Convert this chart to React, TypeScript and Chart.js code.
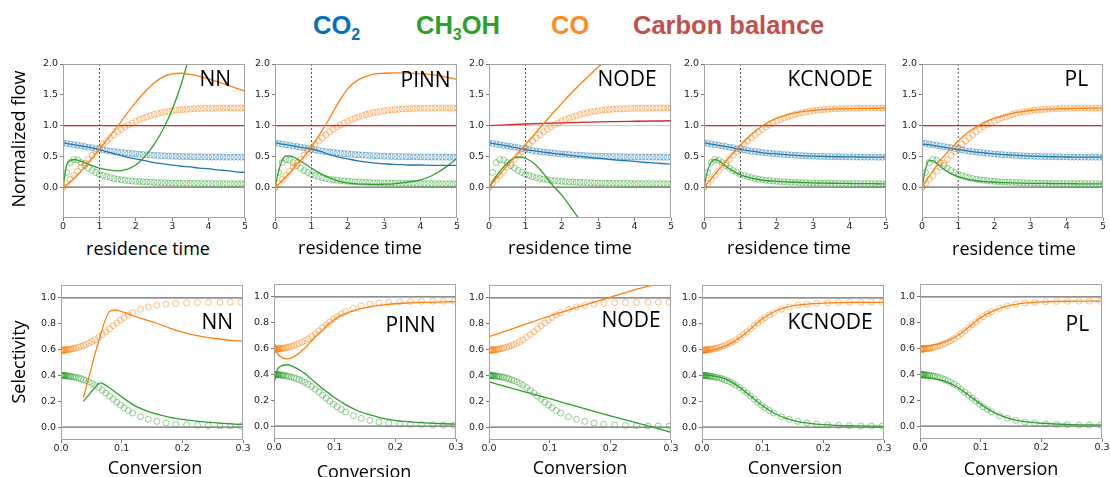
import React, { useEffect, useRef } from 'react';
import { Chart, registerables } from 'chart.js';
Chart.register(...registerables);

// ---------------- DATA ----------------
const topXTicks = [0, 1, 2, 3, 4, 5];
const topYTicks = [0, 0.5, 1, 1.5, 2];
const botXTicks = [0, 0.1, 0.2, 0.3];
const botYTicks = [0, 0.2, 0.4, 0.6, 0.8, 1];

// reference (markers), top row
const refTime = [0,0.1,0.2,0.3,0.4,0.5,0.6,0.7,0.8,0.9,1,1.1,1.2,1.3,1.4,1.5,1.6,1.7,1.8,1.9,2,2.1,2.2,2.3,2.4,2.5,2.6,2.7,2.8,2.9,3,3.1,3.2,3.3,3.4,3.5,3.6,3.7,3.8,3.9,4,4.1,4.2,4.3,4.4,4.5,4.6,4.7,4.8,4.9,5];
const refCO = [0,0.06,0.13,0.19,0.26,0.33,0.39,0.45,0.52,0.58,0.64,0.7,0.75,0.8,0.85,0.9,0.94,0.98,1.01,1.04,1.07,1.1,1.12,1.14,1.16,1.18,1.195,1.21,1.22,1.23,1.24,1.25,1.255,1.26,1.265,1.27,1.272,1.275,1.277,1.279,1.28,1.281,1.282,1.283,1.284,1.285,1.285,1.285,1.285,1.285,1.285];
const refCO2 = [0.72,0.71,0.7,0.69,0.68,0.67,0.66,0.65,0.64,0.625,0.615,0.605,0.595,0.585,0.578,0.57,0.564,0.557,0.551,0.545,0.54,0.535,0.53,0.526,0.522,0.518,0.515,0.512,0.509,0.506,0.504,0.502,0.5,0.498,0.497,0.496,0.495,0.494,0.493,0.492,0.491,0.49,0.49,0.489,0.489,0.488,0.488,0.488,0.487,0.487,0.487];
const refCH3OH = [0,0.24,0.4,0.45,0.44,0.4,0.35,0.31,0.27,0.24,0.21,0.19,0.17,0.155,0.14,0.13,0.12,0.112,0.105,0.1,0.095,0.091,0.087,0.084,0.081,0.078,0.076,0.074,0.072,0.07,0.068,0.067,0.066,0.065,0.064,0.063,0.062,0.061,0.06,0.06,0.059,0.059,0.058,0.058,0.057,0.057,0.056,0.056,0.056,0.055,0.055];

// model curves, top row
const modelTime = [0,0.1,0.2,0.3,0.4,0.5,0.6,0.8,1,1.25,1.5,1.75,2,2.25,2.5,2.75,3,3.25,3.5,3.75,4,4.25,4.5,4.75,5];
const nnCO = [0,0.04,0.09,0.14,0.2,0.26,0.33,0.47,0.62,0.8,0.99,1.19,1.38,1.55,1.69,1.79,1.84,1.85,1.83,1.8,1.76,1.71,1.66,1.61,1.56];
const nnCO2 = [0.72,0.71,0.7,0.69,0.68,0.67,0.66,0.64,0.61,0.57,0.53,0.49,0.46,0.43,0.4,0.38,0.36,0.34,0.33,0.31,0.3,0.28,0.27,0.25,0.24];
const nnCH3OH = [0,0.36,0.43,0.45,0.44,0.42,0.4,0.35,0.31,0.28,0.265,0.29,0.36,0.5,0.69,0.94,1.26,1.68,2.2,2.8,3.5,4.2,5,5.8,6.6];
const pinnCO = [0,0.05,0.11,0.17,0.23,0.3,0.37,0.5,0.65,0.88,1.12,1.38,1.6,1.73,1.8,1.84,1.85,1.855,1.855,1.85,1.845,1.83,1.81,1.78,1.75];
const pinnCO2 = [0.72,0.71,0.7,0.69,0.68,0.67,0.66,0.64,0.62,0.58,0.53,0.49,0.46,0.43,0.41,0.39,0.38,0.37,0.365,0.36,0.36,0.355,0.355,0.355,0.355];
const pinnCH3OH = [0,0.26,0.44,0.51,0.51,0.49,0.46,0.39,0.31,0.22,0.15,0.1,0.07,0.055,0.05,0.045,0.05,0.055,0.07,0.09,0.12,0.17,0.25,0.35,0.47];
const nodeCO = [0,0.07,0.14,0.21,0.28,0.35,0.42,0.55,0.69,0.86,1.03,1.2,1.36,1.52,1.67,1.81,1.95,2.08,2.2,2.32,2.43,2.54,2.64,2.74,2.83];
const nodeCO2 = [0.72,0.71,0.7,0.69,0.68,0.67,0.66,0.635,0.61,0.59,0.57,0.55,0.535,0.515,0.5,0.485,0.47,0.455,0.44,0.43,0.42,0.405,0.395,0.385,0.375];
const nodeCH3OH = [0,0.09,0.18,0.26,0.33,0.39,0.44,0.49,0.47,0.38,0.22,0.03,-0.13,-0.33,-0.54,-0.8,-1.1,-1.4,-1.7,-2,-2.3,-2.6,-2.9,-3.2,-3.5];
const kcCO = [0,0.07,0.14,0.21,0.28,0.35,0.42,0.55,0.68,0.83,0.95,1.05,1.12,1.17,1.205,1.23,1.248,1.26,1.268,1.273,1.277,1.28,1.281,1.282,1.283];
const kcCO2 = [0.72,0.71,0.7,0.69,0.68,0.67,0.66,0.64,0.615,0.59,0.57,0.55,0.54,0.528,0.518,0.51,0.504,0.5,0.496,0.494,0.492,0.49,0.489,0.488,0.487];
const kcCH3OH = [0,0.27,0.41,0.45,0.43,0.39,0.34,0.26,0.2,0.155,0.125,0.105,0.095,0.087,0.08,0.075,0.07,0.067,0.064,0.062,0.06,0.058,0.057,0.056,0.055];
const plCO = [0,0.09,0.18,0.26,0.35,0.43,0.5,0.63,0.75,0.88,0.98,1.06,1.12,1.16,1.2,1.225,1.245,1.258,1.267,1.273,1.277,1.28,1.282,1.283,1.284];
const plCO2 = [0.7,0.695,0.69,0.68,0.67,0.66,0.65,0.63,0.61,0.59,0.57,0.555,0.54,0.53,0.52,0.512,0.505,0.5,0.496,0.493,0.49,0.489,0.488,0.487,0.487];
const plCH3OH = [0,0.3,0.43,0.43,0.39,0.34,0.29,0.22,0.17,0.13,0.105,0.09,0.08,0.075,0.07,0.066,0.063,0.061,0.06,0.058,0.057,0.056,0.055,0.055,0.055];

// carbon balance
const balanceTime = [0, 5];
const balanceFlat = [1, 1];
const nodeBalanceTime = [0, 1, 2, 3, 4, 5];
const nodeBalance = [1, 1.025, 1.045, 1.06, 1.07, 1.078];

// reference guides
const guideTimeX = [1, 1];
const guideTimeY = [-0.5, 2];
const guideTopX = [0, 5];
const guideBotX = [0, 0.3];
const guideZero = [0, 0];
const guideOne = [1, 1];

// reference (markers), bottom row
const refConv = [0,0.001,0.002,0.003,0.004,0.005,0.006,0.007,0.008,0.01,0.012,0.014,0.016,0.019,0.022,0.025,0.029,0.033,0.037,0.041,0.046,0.051,0.056,0.062,0.068,0.074,0.08,0.086,0.092,0.098,0.104,0.111,0.118,0.131,0.144,0.158,0.173,0.189,0.207,0.225,0.243,0.262,0.279,0.297];
const refSelCO = [0.595,0.595,0.595,0.596,0.596,0.596,0.597,0.597,0.598,0.599,0.6,0.602,0.603,0.606,0.609,0.613,0.618,0.624,0.631,0.639,0.65,0.662,0.676,0.695,0.716,0.738,0.761,0.785,0.807,0.829,0.848,0.868,0.886,0.912,0.93,0.943,0.952,0.958,0.962,0.965,0.966,0.967,0.967,0.967];
const refSelCH3OH = [0.4,0.4,0.4,0.399,0.399,0.399,0.398,0.398,0.397,0.396,0.395,0.394,0.392,0.39,0.387,0.384,0.38,0.374,0.367,0.36,0.35,0.338,0.324,0.306,0.285,0.263,0.24,0.216,0.193,0.17,0.15,0.128,0.109,0.08,0.06,0.044,0.032,0.023,0.017,0.013,0.011,0.009,0.008,0.007];

// model curves, bottom row
const nnConv = [0.037,0.045,0.05,0.055,0.06,0.065,0.07,0.08,0.09,0.1,0.12,0.14,0.16,0.18,0.2,0.22,0.24,0.26,0.28,0.3];
const nnSelCO = [0.23,0.37,0.46,0.55,0.63,0.71,0.79,0.895,0.908,0.893,0.86,0.83,0.8,0.765,0.735,0.712,0.695,0.682,0.672,0.665];
const nnSelCH3OH = [0.2,0.245,0.275,0.3,0.33,0.342,0.335,0.305,0.27,0.235,0.17,0.128,0.098,0.076,0.06,0.048,0.038,0.031,0.025,0.02];
const pinnConv = [0,0.002,0.005,0.01,0.02,0.03,0.04,0.05,0.06,0.07,0.08,0.09,0.1,0.11,0.12,0.14,0.16,0.18,0.2,0.22,0.25,0.28,0.3];
const pinnSelCO = [0.6,0.63,0.57,0.54,0.52,0.53,0.56,0.6,0.65,0.7,0.745,0.79,0.825,0.855,0.875,0.905,0.925,0.938,0.947,0.953,0.958,0.962,0.963];
const pinnSelCH3OH = [0.4,0.36,0.43,0.46,0.475,0.465,0.44,0.41,0.37,0.33,0.29,0.255,0.22,0.19,0.16,0.115,0.085,0.06,0.045,0.035,0.025,0.018,0.015];
const nodeConv = [0,0.05,0.1,0.15,0.2,0.25,0.3];
const nodeSelCO = [0.7,0.78,0.86,0.935,1.005,1.075,1.14];
const nodeSelCH3OH = [0.35,0.285,0.22,0.152,0.087,0.025,-0.04];
const kcConv = [0,0.02,0.04,0.06,0.08,0.1,0.12,0.14,0.16,0.18,0.2,0.22,0.25,0.3];
const kcSelCO = [0.59,0.6,0.63,0.685,0.76,0.84,0.895,0.928,0.946,0.955,0.96,0.963,0.965,0.966];
const kcSelCH3OH = [0.405,0.395,0.37,0.315,0.24,0.165,0.105,0.065,0.04,0.027,0.019,0.014,0.01,0.006];
const plConv = [0,0.02,0.04,0.06,0.08,0.1,0.12,0.14,0.16,0.18,0.2,0.25,0.3];
const plSelCO = [0.62,0.625,0.65,0.695,0.765,0.84,0.89,0.925,0.945,0.955,0.962,0.967,0.968];
const plSelCH3OH = [0.375,0.37,0.35,0.305,0.24,0.17,0.11,0.07,0.045,0.03,0.022,0.012,0.008];

// ---------------- STYLE ----------------
const C_BLUE = '#1f77b4';
const C_ORANGE = '#ff7f0e';
const C_GREEN = '#2ca02c';
const C_RED = '#d62728';
const M_BLUE = 'rgba(31,119,180,0.5)';
const M_ORANGE = 'rgba(255,127,14,0.5)';
const M_GREEN = 'rgba(44,160,44,0.5)';

const AXL = 34;
const PADT = 8;
const PADR = 8;
const AXB = 18;

const xy = (xs: number[], ys: number[]) => xs.map((x, i) => ({ x, y: ys[i] }));

const line = (xs: number[], ys: number[], color: string, order = 1, width = 1.3) => ({
  data: xy(xs, ys),
  borderColor: color,
  borderWidth: width,
  pointRadius: 0,
  fill: false,
  cubicInterpolationMode: 'monotone',
  order,
});

const markers = (xs: number[], ys: number[], color: string) => ({
  data: xy(xs, ys),
  showLine: false,
  pointRadius: 3,
  pointBorderWidth: 1,
  pointBorderColor: color,
  pointBackgroundColor: 'rgba(0,0,0,0)',
  order: 3,
});

const guide = (xs: number[], ys: number[], color: string, width: number, dash: number[] = []) => ({
  data: xy(xs, ys),
  borderColor: color,
  borderWidth: width,
  borderDash: dash,
  pointRadius: 0,
  fill: false,
  tension: 0,
  order: 4,
});

const framePlugin = {
  id: 'frame',
  afterDatasetsDraw(chart: any) {
    const { ctx, chartArea: a } = chart;
    ctx.save();
    ctx.strokeStyle = '#a3a3a3';
    ctx.lineWidth = 1;
    ctx.strokeRect(a.left + 0.5, a.top + 0.5, a.right - a.left - 1, a.bottom - a.top - 1);
    ctx.restore();
  },
};

type PanelDef = {
  key: string;
  l: number; r: number; t: number; b: number;
  xMin: number; xMax: number; yMin: number; yMax: number;
  xTicks: number[]; yTicks: number[]; xDec: number;
  datasets: any[];
};

const topDatasets = (co: number[], co2: number[], meoh: number[], balX: number[], balY: number[]) => [
  line(modelTime, co, C_ORANGE),
  line(modelTime, co2, C_BLUE),
  line(modelTime, meoh, C_GREEN),
  line(balX, balY, C_RED, 2, 1.4),
  markers(refTime, refCO, M_ORANGE),
  markers(refTime, refCO2, M_BLUE),
  markers(refTime, refCH3OH, M_GREEN),
  guide(guideTimeX, guideTimeY, '#333', 0.8, [2, 2]),
  guide(guideTopX, guideOne, '#c8c8c8', 1),
  guide(guideTopX, guideZero, '#6a6a6a', 1.3),
];

const botDatasets = (cx: number[], co: number[], meoh: number[]) => [
  line(cx, co, C_ORANGE),
  line(cx, meoh, C_GREEN),
  markers(refConv, refSelCO, M_ORANGE),
  markers(refConv, refSelCH3OH, M_GREEN),
  guide(guideBotX, guideOne, '#6a6a6a', 1.3),
  guide(guideBotX, guideZero, '#6a6a6a', 1.3),
];

const topCommon = { xMin: 0, xMax: 5, yMin: -0.5, yMax: 2, xTicks: topXTicks, yTicks: topYTicks, xDec: 0 };
const botCommon = { xMin: 0, xMax: 0.3, yMin: -0.1, yMax: 1.1, xTicks: botXTicks, yTicks: botYTicks, xDec: 1 };

const panels: PanelDef[] = [
  { key: 'tNN', l: 63, r: 245, t: 64, b: 218, ...topCommon, datasets: topDatasets(nnCO, nnCO2, nnCH3OH, balanceTime, balanceFlat) },
  { key: 'tPINN', l: 275, r: 457, t: 64, b: 218, ...topCommon, datasets: topDatasets(pinnCO, pinnCO2, pinnCH3OH, balanceTime, balanceFlat) },
  { key: 'tNODE', l: 489, r: 671, t: 64, b: 218, ...topCommon, datasets: topDatasets(nodeCO, nodeCO2, nodeCH3OH, nodeBalanceTime, nodeBalance) },
  { key: 'tKC', l: 704, r: 886, t: 64, b: 218, ...topCommon, datasets: topDatasets(kcCO, kcCO2, kcCH3OH, balanceTime, balanceFlat) },
  { key: 'tPL', l: 922, r: 1103, t: 64, b: 218, ...topCommon, datasets: topDatasets(plCO, plCO2, plCH3OH, balanceTime, balanceFlat) },
  { key: 'bNN', l: 61, r: 243, t: 285, b: 440, ...botCommon, datasets: botDatasets(nnConv, nnSelCO, nnSelCH3OH) },
  { key: 'bPINN', l: 274, r: 456, t: 284, b: 439, ...botCommon, datasets: botDatasets(pinnConv, pinnSelCO, pinnSelCH3OH) },
  { key: 'bNODE', l: 489, r: 671, t: 285, b: 440, ...botCommon, datasets: botDatasets(nodeConv, nodeSelCO, nodeSelCH3OH) },
  { key: 'bKC', l: 702, r: 884, t: 285, b: 440, ...botCommon, datasets: botDatasets(kcConv, kcSelCO, kcSelCH3OH) },
  { key: 'bPL', l: 920, r: 1102, t: 284, b: 439, ...botCommon, datasets: botDatasets(plConv, plSelCO, plSelCH3OH) },
];

const tickFont = { family: 'DejaVu Sans', size: 9.5 };

function Panel({ p }: { p: PanelDef }) {
  const ref = useRef<HTMLCanvasElement>(null);
  const w = p.r - p.l + AXL + PADR;
  const h = p.b - p.t + PADT + AXB;
  useEffect(() => {
    const chart = new Chart(ref.current as HTMLCanvasElement, {
      type: 'line',
      data: { datasets: p.datasets },
      options: {
        responsive: false,
        animation: false,
        devicePixelRatio: 1,
        events: [],
        layout: { padding: { left: 0, top: PADT, right: PADR, bottom: 0 } },
        plugins: { legend: { display: false }, tooltip: { enabled: false } },
        scales: {
          x: {
            type: 'linear',
            min: p.xMin,
            max: p.xMax,
            afterBuildTicks: (s: any) => { s.ticks = p.xTicks.map((v) => ({ value: v })); },
            afterFit: (s: any) => { s.height = AXB; },
            grid: { display: true, drawOnChartArea: false, drawTicks: true, tickLength: 3, color: '#555', lineWidth: 0.8 },
            border: { display: false },
            ticks: { font: tickFont, color: '#222', padding: 0, maxRotation: 0, autoSkip: false, callback: (v: any) => Number(v).toFixed(p.xDec) },
          },
          y: {
            type: 'linear',
            min: p.yMin,
            max: p.yMax,
            afterBuildTicks: (s: any) => { s.ticks = p.yTicks.map((v) => ({ value: v })); },
            afterFit: (s: any) => { s.width = AXL; },
            grid: { display: true, drawOnChartArea: false, drawTicks: true, tickLength: 3, color: '#555', lineWidth: 0.8 },
            border: { display: false },
            ticks: { font: tickFont, color: '#222', padding: 2, autoSkip: false, callback: (v: any) => Number(v).toFixed(1) },
          },
        },
      } as any,
      plugins: [framePlugin],
    } as any);
    return () => chart.destroy();
  }, []);
  return (
    <canvas
      ref={ref}
      width={w}
      height={h}
      style={{ position: 'absolute', left: p.l - AXL, top: p.t - PADT, width: w, height: h }}
    />
  );
}

const modelLabels = [
  { text: 'NN', x: 199.5, y: 68.3 },
  { text: 'PINN', x: 400.5, y: 69.3 },
  { text: 'NODE', x: 597.5, y: 68.3 },
  { text: 'KCNODE', x: 787.5, y: 68.3 },
  { text: 'PL', x: 1064.5, y: 68.3 },
  { text: 'NN', x: 201.5, y: 311.3 },
  { text: 'PINN', x: 385.5, y: 314.3 },
  { text: 'NODE', x: 601.5, y: 309.3 },
  { text: 'KCNODE', x: 787.5, y: 311.3 },
  { text: 'PL', x: 1065.5, y: 313.3 },
];

const xTitles = [
  { text: 'residence time', cx: 148, top: 238.5 },
  { text: 'residence time', cx: 360, top: 238 },
  { text: 'residence time', cx: 570, top: 238 },
  { text: 'residence time', cx: 789, top: 238 },
  { text: 'residence time', cx: 1014, top: 239 },
  { text: 'Conversion', cx: 155, top: 458 },
  { text: 'Conversion', cx: 364, top: 462 },
  { text: 'Conversion', cx: 580, top: 458 },
  { text: 'Conversion', cx: 795, top: 458 },
  { text: 'Conversion', cx: 1011, top: 459 },
];

const yTitles = [
  { text: 'Normalized flow', cx: 18, cy: 139 },
  { text: 'Selectivity', cx: 18, cy: 361.5 },
];

const legendFont = { fontFamily: '"Liberation Sans", Arial, sans-serif', fontWeight: 700 as const, fontSize: 25.5, lineHeight: 1, position: 'absolute' as const, top: 13, whiteSpace: 'nowrap' as const };
const subStyle = { fontSize: 16, position: 'relative' as const, top: 6 };

export default function App() {
  return (
    <div style={{ position: 'absolute', left: 0, top: 0, width: 1110, height: 477, background: '#fff', overflow: 'hidden' }}>
      <span style={{ ...legendFont, left: 313, color: '#0070c0' }}>CO<span style={subStyle}>2</span></span>
      <span style={{ ...legendFont, left: 416, color: '#2ca02c' }}>CH<span style={subStyle}>3</span>OH</span>
      <span style={{ ...legendFont, left: 551, color: '#ff8a24' }}>CO</span>
      <span style={{ ...legendFont, left: 633, color: '#c0504d' }}>Carbon balance</span>
      {panels.map((p) => <Panel key={p.key} p={p} />)}
      {modelLabels.map((m, i) => (
        <div key={'m' + i} style={{ position: 'absolute', left: m.x, top: m.y, fontFamily: '"Open Sans", sans-serif', fontSize: 21, lineHeight: 1, color: '#000', whiteSpace: 'nowrap' }}>{m.text}</div>
      ))}
      {xTitles.map((t, i) => (
        <div key={'x' + i} style={{ position: 'absolute', left: t.cx - 100, width: 200, top: t.top, textAlign: 'center', fontFamily: '"Open Sans", sans-serif', fontSize: 18, lineHeight: 1, color: '#000', whiteSpace: 'nowrap' }}>{t.text}</div>
      ))}
      {yTitles.map((t, i) => (
        <div key={'y' + i} style={{ position: 'absolute', left: t.cx - 100, width: 200, top: t.cy - 9, height: 18, textAlign: 'center', fontFamily: '"Open Sans", sans-serif', fontSize: 18, lineHeight: '18px', color: '#000', whiteSpace: 'nowrap', transform: 'rotate(-90deg)', transformOrigin: 'center center' }}>{t.text}</div>
      ))}
    </div>
  );
}
